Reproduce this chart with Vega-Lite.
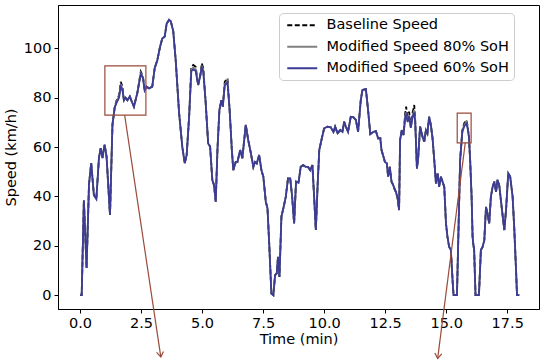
{
  "$schema": "https://vega.github.io/schema/vega-lite/v6.json",
  "autosize": {"type": "none"},
  "width": 481,
  "height": 304,
  "padding": {"left": 58, "top": 5, "right": 11, "bottom": 55},
  "background": "white",
  "config": {
    "font": "DejaVu Sans",
    "view": {"stroke": "black", "strokeWidth": 1},
    "axis": {
      "labelFont": "DejaVu Sans", "titleFont": "DejaVu Sans",
      "labelFontSize": 14.5, "titleFontSize": 14.5, "titleFontWeight": "normal",
      "labelColor": "black", "titleColor": "black",
      "domainColor": "black", "tickColor": "black", "tickSize": 4, "labelPadding": 3,
      "grid": false
    },
    "legend": {
      "labelFont": "DejaVu Sans", "labelFontSize": 14.5, "labelColor": "black", "labelLimit": 400
    }
  },
  "datasets": {
    "speed": [
      {"t":0.00,"b":0,"m80":0,"m60":0},
      {"t":0.07,"b":0,"m80":0,"m60":0},
      {"t":0.16,"b":38.5,"m80":38.5,"m60":38.5},
      {"t":0.27,"b":11,"m80":11,"m60":11},
      {"t":0.37,"b":45,"m80":45,"m60":45},
      {"t":0.46,"b":53.5,"m80":53.5,"m60":53.5},
      {"t":0.57,"b":40.6,"m80":40.6,"m60":40.6},
      {"t":0.67,"b":39,"m80":39,"m60":39},
      {"t":0.78,"b":56,"m80":56,"m60":56},
      {"t":0.85,"b":59.6,"m80":59.6,"m60":59.6},
      {"t":0.92,"b":55.6,"m80":55.6,"m60":55.6},
      {"t":1.01,"b":61,"m80":61,"m60":61},
      {"t":1.09,"b":56,"m80":56,"m60":56},
      {"t":1.23,"b":32.5,"m80":32.5,"m60":32.5},
      {"t":1.33,"b":69,"m80":69,"m60":69},
      {"t":1.42,"b":76,"m80":76,"m60":76},
      {"t":1.50,"b":79,"m80":78.5,"m60":78},
      {"t":1.60,"b":81,"m80":80.5,"m60":80},
      {"t":1.67,"b":86.5,"m80":85.5,"m60":84.5},
      {"t":1.74,"b":84.5,"m80":83.5,"m60":83},
      {"t":1.80,"b":79,"m80":79,"m60":79},
      {"t":1.87,"b":80,"m80":80,"m60":80},
      {"t":1.94,"b":79,"m80":79,"m60":79},
      {"t":2.04,"b":80.5,"m80":80.5,"m60":80.5},
      {"t":2.10,"b":79,"m80":79,"m60":79},
      {"t":2.21,"b":76.4,"m80":76.4,"m60":76.4},
      {"t":2.35,"b":82,"m80":82,"m60":82},
      {"t":2.49,"b":90.6,"m80":90,"m60":89.6},
      {"t":2.58,"b":88.6,"m80":88.3,"m60":88},
      {"t":2.65,"b":83,"m80":83,"m60":83},
      {"t":2.73,"b":84.5,"m80":84.5,"m60":84.5},
      {"t":2.83,"b":83.8,"m80":83.8,"m60":83.8},
      {"t":2.96,"b":84.5,"m80":84.5,"m60":84.5},
      {"t":3.06,"b":92,"m80":92,"m60":92},
      {"t":3.17,"b":95.3,"m80":95.3,"m60":95.3},
      {"t":3.28,"b":100.7,"m80":100.7,"m60":100.7},
      {"t":3.37,"b":104,"m80":104,"m60":104},
      {"t":3.47,"b":104.8,"m80":104.8,"m60":104.8},
      {"t":3.55,"b":110,"m80":110,"m60":110},
      {"t":3.65,"b":111.6,"m80":111.6,"m60":111.6},
      {"t":3.72,"b":111,"m80":111,"m60":111},
      {"t":3.82,"b":107,"m80":107,"m60":107},
      {"t":3.92,"b":95.3,"m80":95.3,"m60":95.3},
      {"t":4.06,"b":73.8,"m80":73.8,"m60":73.8},
      {"t":4.19,"b":60.2,"m80":60.2,"m60":60.2},
      {"t":4.29,"b":53.5,"m80":53.5,"m60":53.5},
      {"t":4.37,"b":56.8,"m80":56.8,"m60":56.8},
      {"t":4.47,"b":72.3,"m80":72.3,"m60":72.3},
      {"t":4.56,"b":92.6,"m80":91.5,"m60":90.8},
      {"t":4.64,"b":93.3,"m80":92.3,"m60":91.5},
      {"t":4.74,"b":92.6,"m80":91.6,"m60":90.8},
      {"t":4.84,"b":85.2,"m80":85.2,"m60":85.2},
      {"t":4.92,"b":88.6,"m80":88.6,"m60":88.6},
      {"t":4.99,"b":94,"m80":93,"m60":92.3},
      {"t":5.05,"b":92,"m80":91.2,"m60":90.6},
      {"t":5.15,"b":77.8,"m80":77.8,"m60":77.8},
      {"t":5.25,"b":61.5,"m80":61.5,"m60":61.5},
      {"t":5.33,"b":60.2,"m80":60.2,"m60":60.2},
      {"t":5.42,"b":46.7,"m80":46.7,"m60":46.7},
      {"t":5.49,"b":44.6,"m80":44.6,"m60":44.6},
      {"t":5.56,"b":37.9,"m80":37.9,"m60":37.9},
      {"t":5.63,"b":58.8,"m80":58.8,"m60":58.8},
      {"t":5.71,"b":75,"m80":75,"m60":75},
      {"t":5.79,"b":79,"m80":79,"m60":79},
      {"t":5.85,"b":76.4,"m80":76.4,"m60":76.4},
      {"t":5.93,"b":86.5,"m80":85.5,"m60":85},
      {"t":6.04,"b":87.9,"m80":86.9,"m60":86.3},
      {"t":6.13,"b":75,"m80":75,"m60":75},
      {"t":6.22,"b":58.8,"m80":58.8,"m60":58.8},
      {"t":6.28,"b":50.7,"m80":50.7,"m60":50.7},
      {"t":6.38,"b":54,"m80":54,"m60":54},
      {"t":6.45,"b":54,"m80":54,"m60":54},
      {"t":6.56,"b":58.8,"m80":58.8,"m60":58.8},
      {"t":6.65,"b":55.5,"m80":55.5,"m60":55.5},
      {"t":6.79,"b":69,"m80":69,"m60":69},
      {"t":6.89,"b":62.9,"m80":62.9,"m60":62.9},
      {"t":7.00,"b":57.5,"m80":57.5,"m60":57.5},
      {"t":7.10,"b":52,"m80":52,"m60":52},
      {"t":7.17,"b":54,"m80":54,"m60":54},
      {"t":7.24,"b":53.4,"m80":53.4,"m60":53.4},
      {"t":7.34,"b":56.8,"m80":56.8,"m60":56.8},
      {"t":7.43,"b":50.7,"m80":50.7,"m60":50.7},
      {"t":7.51,"b":48,"m80":48,"m60":48},
      {"t":7.61,"b":37.9,"m80":37.9,"m60":37.9},
      {"t":7.68,"b":35.2,"m80":35.2,"m60":35.2},
      {"t":7.75,"b":21,"m80":21,"m60":21},
      {"t":7.84,"b":0.7,"m80":0.7,"m60":0.7},
      {"t":7.92,"b":0,"m80":0,"m60":0},
      {"t":7.99,"b":8.1,"m80":8.1,"m60":8.1},
      {"t":8.06,"b":8.8,"m80":8.8,"m60":8.8},
      {"t":8.11,"b":15.5,"m80":15.5,"m60":15.5},
      {"t":8.17,"b":7.4,"m80":7.4,"m60":7.4},
      {"t":8.25,"b":31.8,"m80":31.8,"m60":31.8},
      {"t":8.33,"b":35.2,"m80":35.2,"m60":35.2},
      {"t":8.43,"b":39.9,"m80":39.9,"m60":39.9},
      {"t":8.52,"b":47.3,"m80":47.3,"m60":47.3},
      {"t":8.61,"b":47.3,"m80":47.3,"m60":47.3},
      {"t":8.69,"b":39.9,"m80":39.9,"m60":39.9},
      {"t":8.77,"b":29.1,"m80":29.1,"m60":29.1},
      {"t":8.85,"b":46,"m80":46,"m60":46},
      {"t":8.95,"b":45.6,"m80":45.6,"m60":45.6},
      {"t":9.04,"b":52,"m80":52,"m60":52},
      {"t":9.14,"b":52.7,"m80":52.7,"m60":52.7},
      {"t":9.25,"b":52,"m80":52,"m60":52},
      {"t":9.34,"b":52,"m80":52,"m60":52},
      {"t":9.43,"b":50.7,"m80":50.7,"m60":50.7},
      {"t":9.52,"b":52.7,"m80":52.7,"m60":52.7},
      {"t":9.59,"b":39.9,"m80":39.9,"m60":39.9},
      {"t":9.66,"b":26.4,"m80":26.4,"m60":26.4},
      {"t":9.73,"b":43.9,"m80":43.9,"m60":43.9},
      {"t":9.80,"b":58.8,"m80":58.8,"m60":58.8},
      {"t":9.89,"b":62.9,"m80":62.9,"m60":62.9},
      {"t":10.00,"b":67.6,"m80":67.6,"m60":67.6},
      {"t":10.14,"b":68.3,"m80":68.3,"m60":68.3},
      {"t":10.27,"b":68,"m80":68,"m60":68},
      {"t":10.38,"b":66.2,"m80":66.2,"m60":66.2},
      {"t":10.45,"b":68.3,"m80":68.3,"m60":68.3},
      {"t":10.55,"b":65.6,"m80":65.6,"m60":65.6},
      {"t":10.66,"b":66.9,"m80":66.9,"m60":66.9},
      {"t":10.75,"b":66.2,"m80":66.2,"m60":66.2},
      {"t":10.82,"b":70.3,"m80":70.3,"m60":70.3},
      {"t":10.89,"b":68.3,"m80":68.3,"m60":68.3},
      {"t":10.98,"b":66.2,"m80":66.2,"m60":66.2},
      {"t":11.09,"b":72.3,"m80":72.3,"m60":72.3},
      {"t":11.20,"b":72.1,"m80":72.1,"m60":72.1},
      {"t":11.30,"b":71,"m80":71,"m60":71},
      {"t":11.39,"b":66.2,"m80":66.2,"m60":66.2},
      {"t":11.50,"b":79,"m80":79,"m60":79},
      {"t":11.57,"b":83.2,"m80":83.2,"m60":83.2},
      {"t":11.71,"b":83.5,"m80":83.5,"m60":83.5},
      {"t":11.80,"b":75,"m80":75,"m60":75},
      {"t":11.89,"b":65.3,"m80":65.3,"m60":65.3},
      {"t":12.02,"b":66.2,"m80":66.2,"m60":66.2},
      {"t":12.12,"b":66.5,"m80":66.5,"m60":66.5},
      {"t":12.21,"b":63.6,"m80":63.6,"m60":63.6},
      {"t":12.30,"b":63.6,"m80":63.6,"m60":63.6},
      {"t":12.35,"b":58.8,"m80":58.8,"m60":58.8},
      {"t":12.43,"b":56.1,"m80":56.1,"m60":56.1},
      {"t":12.49,"b":54,"m80":54,"m60":54},
      {"t":12.57,"b":53.4,"m80":53.4,"m60":53.4},
      {"t":12.62,"b":48,"m80":48,"m60":48},
      {"t":12.69,"b":52,"m80":52,"m60":52},
      {"t":12.76,"b":46,"m80":46,"m60":46},
      {"t":12.83,"b":44.6,"m80":44.6,"m60":44.6},
      {"t":12.90,"b":42.6,"m80":42.6,"m60":42.6},
      {"t":12.94,"b":41.9,"m80":41.9,"m60":41.9},
      {"t":13.01,"b":39.2,"m80":39.2,"m60":39.2},
      {"t":13.07,"b":34.5,"m80":34.5,"m60":34.5},
      {"t":13.11,"b":62.9,"m80":62.9,"m60":62.9},
      {"t":13.18,"b":66.9,"m80":66.9,"m60":66.9},
      {"t":13.25,"b":64.9,"m80":64.9,"m60":64.9},
      {"t":13.32,"b":73.7,"m80":72.5,"m60":72},
      {"t":13.36,"b":76.4,"m80":74,"m60":73},
      {"t":13.42,"b":71,"m80":70.5,"m60":70.2},
      {"t":13.48,"b":74.4,"m80":73,"m60":72.5},
      {"t":13.55,"b":68.3,"m80":68,"m60":67.8},
      {"t":13.62,"b":73.7,"m80":72.5,"m60":72},
      {"t":13.69,"b":77.1,"m80":75,"m60":74},
      {"t":13.73,"b":71,"m80":70.5,"m60":70.2},
      {"t":13.80,"b":51.4,"m80":51.4,"m60":51.4},
      {"t":13.85,"b":55.5,"m80":55.5,"m60":55.5},
      {"t":13.93,"b":68.3,"m80":68.3,"m60":68.3},
      {"t":14.03,"b":64.2,"m80":64.2,"m60":64.2},
      {"t":14.10,"b":62.2,"m80":62.2,"m60":62.2},
      {"t":14.17,"b":66.9,"m80":66.9,"m60":66.9},
      {"t":14.23,"b":65.6,"m80":65.6,"m60":65.6},
      {"t":14.30,"b":72.3,"m80":72.3,"m60":72.3},
      {"t":14.37,"b":69,"m80":69,"m60":69},
      {"t":14.44,"b":63.6,"m80":63.6,"m60":63.6},
      {"t":14.51,"b":54.8,"m80":54.8,"m60":54.8},
      {"t":14.58,"b":45.3,"m80":45.3,"m60":45.3},
      {"t":14.65,"b":49.4,"m80":49.4,"m60":49.4},
      {"t":14.71,"b":43.9,"m80":43.9,"m60":43.9},
      {"t":14.78,"b":48,"m80":48,"m60":48},
      {"t":14.85,"b":46,"m80":46,"m60":46},
      {"t":14.92,"b":43.9,"m80":43.9,"m60":43.9},
      {"t":14.99,"b":29.1,"m80":29.1,"m60":29.1},
      {"t":15.05,"b":23.7,"m80":23.7,"m60":23.7},
      {"t":15.12,"b":19.6,"m80":19.6,"m60":19.6},
      {"t":15.19,"b":18.3,"m80":18.3,"m60":18.3},
      {"t":15.26,"b":6.1,"m80":6.1,"m60":6.1},
      {"t":15.30,"b":0,"m80":0,"m60":0},
      {"t":15.44,"b":0,"m80":0,"m60":0},
      {"t":15.49,"b":21,"m80":21,"m60":21},
      {"t":15.57,"b":54.8,"m80":54.8,"m60":54.8},
      {"t":15.66,"b":66.9,"m80":66.5,"m60":66.2},
      {"t":15.74,"b":69.7,"m80":69,"m60":68.5},
      {"t":15.82,"b":71,"m80":70.2,"m60":69.5},
      {"t":15.87,"b":69,"m80":68.5,"m60":68},
      {"t":15.93,"b":64.2,"m80":64.2,"m60":64.2},
      {"t":15.98,"b":54.8,"m80":54.8,"m60":54.8},
      {"t":16.04,"b":39.9,"m80":39.9,"m60":39.9},
      {"t":16.08,"b":23.7,"m80":23.7,"m60":23.7},
      {"t":16.12,"b":19.6,"m80":19.6,"m60":19.6},
      {"t":16.14,"b":19.6,"m80":19.6,"m60":19.6},
      {"t":16.20,"b":0,"m80":0,"m60":0},
      {"t":16.34,"b":0,"m80":0,"m60":0},
      {"t":16.42,"b":18.3,"m80":18.3,"m60":18.3},
      {"t":16.49,"b":19.6,"m80":19.6,"m60":19.6},
      {"t":16.56,"b":22.3,"m80":22.3,"m60":22.3},
      {"t":16.63,"b":35.8,"m80":35.8,"m60":35.8},
      {"t":16.69,"b":33.1,"m80":33.1,"m60":33.1},
      {"t":16.76,"b":29.1,"m80":29.1,"m60":29.1},
      {"t":16.83,"b":39.9,"m80":39.9,"m60":39.9},
      {"t":16.90,"b":43.9,"m80":43.9,"m60":43.9},
      {"t":16.97,"b":46,"m80":46,"m60":46},
      {"t":17.04,"b":41.9,"m80":41.9,"m60":41.9},
      {"t":17.10,"b":46.7,"m80":46.7,"m60":46.7},
      {"t":17.17,"b":44.6,"m80":44.6,"m60":44.6},
      {"t":17.27,"b":35.8,"m80":35.8,"m60":35.8},
      {"t":17.38,"b":26.4,"m80":26.4,"m60":26.4},
      {"t":17.45,"b":34.5,"m80":34.5,"m60":34.5},
      {"t":17.54,"b":49.4,"m80":49.4,"m60":49.4},
      {"t":17.62,"b":48,"m80":48,"m60":48},
      {"t":17.72,"b":39.9,"m80":39.9,"m60":39.9},
      {"t":17.79,"b":26.4,"m80":26.4,"m60":26.4},
      {"t":17.86,"b":10.1,"m80":10.1,"m60":10.1},
      {"t":17.90,"b":0,"m80":0,"m60":0},
      {"t":17.99,"b":0,"m80":0,"m60":0}
    ],
    "boxes": [
      {"t0":1.02,"t1":2.70,"v0":73,"v1":92.9},
      {"t0":15.45,"t1":16.02,"v0":61.7,"v1":73.8}
    ],
    "arrows": [
      {"a":1,"t0":1.83,"v0":73,"t1":3.31,"v1":-25},
      {"a":2,"t0":15.78,"v0":61.7,"t1":14.65,"v1":-25.6}
    ]
  },
  "layer": [
    {
      "data": {"name": "speed"},
      "transform": [{"fold": ["b", "m80", "m60"], "as": ["series", "v"]}],
      "mark": {"type": "line", "strokeWidth": 1.8, "clip": true},
      "encoding": {
        "x": {"field": "t", "type": "quantitative", "title": "Time (min)",
              "scale": {"domain": [-0.9, 18.8], "nice": false, "zero": false},
              "axis": {"values": [0, 2.5, 5, 7.5, 10, 12.5, 15, 17.5], "format": ".1f", "titlePadding": 3}},
        "y": {"field": "v", "type": "quantitative", "title": "Speed (km/h)",
              "scale": {"domain": [-5.6, 117.6], "nice": false, "zero": false},
              "axis": {"values": [0, 20, 40, 60, 80, 100], "titlePadding": 5}},
        "color": {"field": "series", "type": "nominal",
                  "scale": {"domain": ["b", "m80", "m60"], "range": ["black", "#808080", "#3c3c96"]},
                  "legend": {
                    "title": null, "orient": "none", "legendX": 221, "legendY": 8,
                    "labelExpr": "datum.label == 'b' ? 'Baseline Speed' : datum.label == 'm80' ? 'Modified Speed 80% SoH' : 'Modified Speed 60% SoH'",
                    "symbolType": "M-3,0H3", "symbolSize": 100, "symbolStrokeWidth": 1.8,
                    "symbolOffset": 11, "labelOffset": 17, "padding": 5, "rowPadding": 6.5, "labelLimit": 400,
                    "fillColor": "white", "strokeColor": "#cccccc", "cornerRadius": 4
                  }},
        "strokeDash": {"field": "series", "type": "nominal",
                  "scale": {"domain": ["b", "m80", "m60"], "range": [[5, 2.5], [1, 0], [1, 0]]},
                  "legend": {
                    "title": null, "orient": "none", "legendX": 221, "legendY": 8,
                    "labelExpr": "datum.label == 'b' ? 'Baseline Speed' : datum.label == 'm80' ? 'Modified Speed 80% SoH' : 'Modified Speed 60% SoH'",
                    "symbolType": "M-3,0H3", "symbolSize": 100, "symbolStrokeWidth": 1.8,
                    "symbolOffset": 11, "labelOffset": 17, "padding": 5, "rowPadding": 6.5, "labelLimit": 400,
                    "fillColor": "white", "strokeColor": "#cccccc", "cornerRadius": 4
                  }}
      }
    },
    {
      "data": {"name": "boxes"},
      "mark": {"type": "rect", "filled": false, "stroke": "#9b4a3a", "strokeWidth": 1.2},
      "encoding": {
        "x": {"field": "t0", "type": "quantitative", "title": "Time (min)"},
        "x2": {"field": "t1"},
        "y": {"field": "v0", "type": "quantitative", "title": "Speed (km/h)"},
        "y2": {"field": "v1"}
      }
    },
    {
      "data": {"name": "arrows"},
      "mark": {"type": "rule", "color": "#9b4a3a", "strokeWidth": 1.2, "clip": false},
      "encoding": {
        "x": {"field": "t0", "type": "quantitative", "title": "Time (min)"},
        "x2": {"field": "t1"},
        "y": {"field": "v0", "type": "quantitative", "title": "Speed (km/h)"},
        "y2": {"field": "v1"}
      }
    },
    {
      "data": {"name": "arrows"},
      "transform": [{"filter": "datum.a == 1"}],
      "mark": {"type": "point", "shape": "M-0.7,-1L0,0L0.7,-1", "filled": false, "stroke": "#9b4a3a", "strokeWidth": 1.2, "size": 100, "angle": 351.5, "clip": false, "opacity": 1},
      "encoding": {
        "x": {"field": "t1", "type": "quantitative", "title": "Time (min)"},
        "y": {"field": "v1", "type": "quantitative", "title": "Speed (km/h)"}
      }
    },
    {
      "data": {"name": "arrows"},
      "transform": [{"filter": "datum.a == 2"}],
      "mark": {"type": "point", "shape": "M-0.7,-1L0,0L0.7,-1", "filled": false, "stroke": "#9b4a3a", "strokeWidth": 1.2, "size": 100, "angle": 7.3, "clip": false, "opacity": 1},
      "encoding": {
        "x": {"field": "t1", "type": "quantitative", "title": "Time (min)"},
        "y": {"field": "v1", "type": "quantitative", "title": "Speed (km/h)"}
      }
    }
  ]
}
